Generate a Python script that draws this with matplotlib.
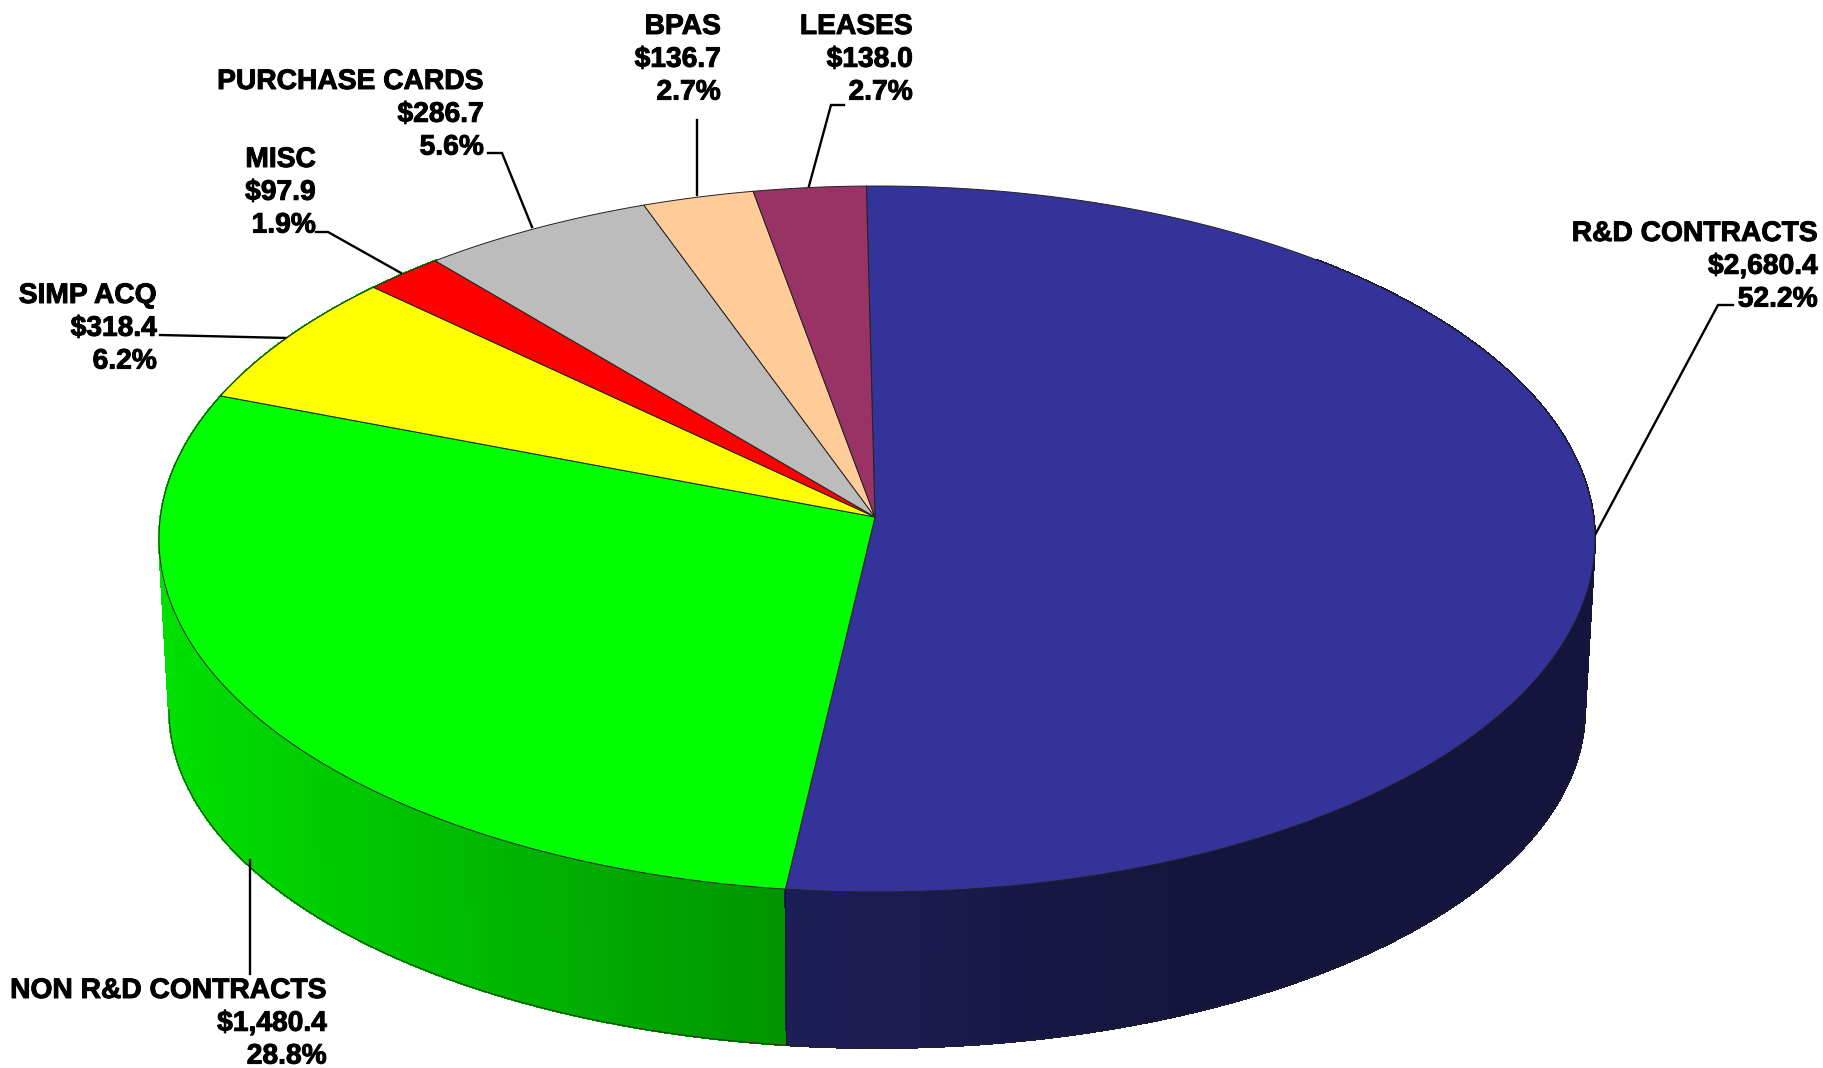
import numpy as np
import matplotlib
matplotlib.use("Agg")
import matplotlib.pyplot as plt
import matplotlib.patheffects as pe

# $ millions, clockwise from the top of the pie
categories = ["R&D CONTRACTS", "NON R&D CONTRACTS", "SIMP ACQ", "MISC",
              "PURCHASE CARDS", "BPAS", "LEASES"]
amounts = [2680.4, 1480.4, 318.4, 97.9, 286.7, 136.7, 138.0]
amount_labels = ["$2,680.4", "$1,480.4", "$318.4", "$97.9", "$286.7", "$136.7", "$138.0"]
percent_labels = ["52.2%", "28.8%", "6.2%", "1.9%", "5.6%", "2.7%", "2.7%"]
colors = ["#333399", "#00ff00", "#ffff00", "#ff0000", "#bcbcbc", "#ffcc99", "#993366"]

# side wall shades, left end and right end of each visible slice
wall_left = {"R&D CONTRACTS": "#1e1e58", "NON R&D CONTRACTS": "#00e000"}
wall_right = {"R&D CONTRACTS": "#14143c", "NON R&D CONTRACTS": "#009400"}
# share of the slice's width over which the shade changes
wall_ramp = {"R&D CONTRACTS": 0.5, "NON R&D CONTRACTS": 1.0}

# label layout in pixels: right edge and first baseline, then the leader line
label_xy = [(1818, 241), (327, 998), (157, 303), (316, 167), (484, 89), (721, 34), (913, 34)]
line_step = 32.8
leaders = [
    [(1595, 535), (1718, 305), (1733, 305)],
    [(250, 860), (250, 974)],
    [(288, 338), (160, 335)],
    [(401, 273), (328, 232), (316, 232)],
    [(532, 227), (502, 153), (488, 153)],
    [(697, 195), (697, 120)],
    [(809, 186), (831, 105), (844, 105)],
]

# pie geometry in pixels; the slice centre sits above the ellipse centre (perspective)
cx, cy, rx, ry = 877, 539, 718, 353
bx, by, brx, bry = 877, 710, 708, 338
apex = (875, 517)
start = np.radians(-0.9)
beta = (cy - apex[1]) / ry


def rim(t, x0, y0, a, b):
    # circle angle to ellipse point, with the perspective shift toward the back
    s, c = np.sin(t), np.cos(t)
    d = 1 + beta * c
    return x0 + a * s * np.sqrt(1 - beta ** 2) / d, y0 - b * (c + beta) / d


fig = plt.figure(figsize=(18.23, 10.68), dpi=100)
ax = fig.add_axes([0, 0, 1, 1])
ax.set_xlim(0, 1823)
ax.set_ylim(1068, 0)
ax.axis("off")

edges = start + 2 * np.pi * np.cumsum([0] + amounts) / sum(amounts)

# side wall: strips along the front of the rim, run on past the silhouette on both
# sides so the far ends hide behind the top face. Green first, blue overlaps the seam.
for name, t0, t1 in reversed(list(zip(categories, edges[:-1], edges[1:]))):
    if name not in wall_left:
        continue
    left = np.array(matplotlib.colors.to_rgb(wall_left[name]))
    right = np.array(matplotlib.colors.to_rgb(wall_right[name]))
    lo = t0 if t0 > 0 else np.radians(40)
    hi = t1 if t1 < 1.5 * np.pi - 1 else np.radians(320)
    ts = np.linspace(lo, hi, 200)
    xa, ya = rim(ts, cx, cy, rx, ry)
    xb, yb = rim(ts, bx, by, brx, bry)
    for i in range(len(ts) - 1):
        f = (xa[i] - xa.min()) / (xa.max() - xa.min())
        f = min(1, f / wall_ramp[name])
        c = left + (right - left) * f
        ax.fill([xa[i], xa[i + 1], xb[i + 1], xb[i]], [ya[i], ya[i + 1], yb[i + 1], yb[i]],
                color=c, lw=0.8, antialiased=False, zorder=1)
    # outline only up to the silhouette, the rest of the bottom rim is hidden
    if lo < np.pi / 2 + 1:
        k = np.argmax(xb)
        ax.plot(xb[k:], yb[k:], color="#222222", lw=0.6, zorder=2)
    else:
        k = np.argmin(xb)
        ax.plot(xb[:k + 1], yb[:k + 1], color="#222222", lw=0.6, zorder=2)

# seam between the two visible wall slices
sx0, sy0 = rim(edges[1], cx, cy, rx, ry)
sx1, sy1 = rim(edges[1], bx, by, brx, bry)
ax.plot([sx0, sx1], [sy0, sy1], color="#111133", lw=0.6, zorder=2)

# top face
for c, t0, t1 in zip(colors, edges[:-1], edges[1:]):
    ts = np.linspace(t0, t1, 200)
    x, y = rim(ts, cx, cy, rx, ry)
    ax.fill(np.r_[apex[0], x], np.r_[apex[1], y], facecolor=c, edgecolor="#222222",
            lw=0.7, joinstyle="round", zorder=3)

# labels and leader lines
for i, name in enumerate(categories):
    for j, line in enumerate([name, amount_labels[i], percent_labels[i]]):
        ax.text(label_xy[i][0], label_xy[i][1] + j * line_step, line,
                ha="right", va="baseline", family="Liberation Sans", weight="bold", fontsize=20.3,
                color="black", zorder=5,
                path_effects=[pe.withStroke(linewidth=0.7, foreground="black")])
    pts = np.array(leaders[i])
    ax.plot(pts[:, 0], pts[:, 1], color="black", lw=1.7, solid_joinstyle="miter", zorder=2.5)

fig.savefig("out.png", dpi=100, facecolor="white")
